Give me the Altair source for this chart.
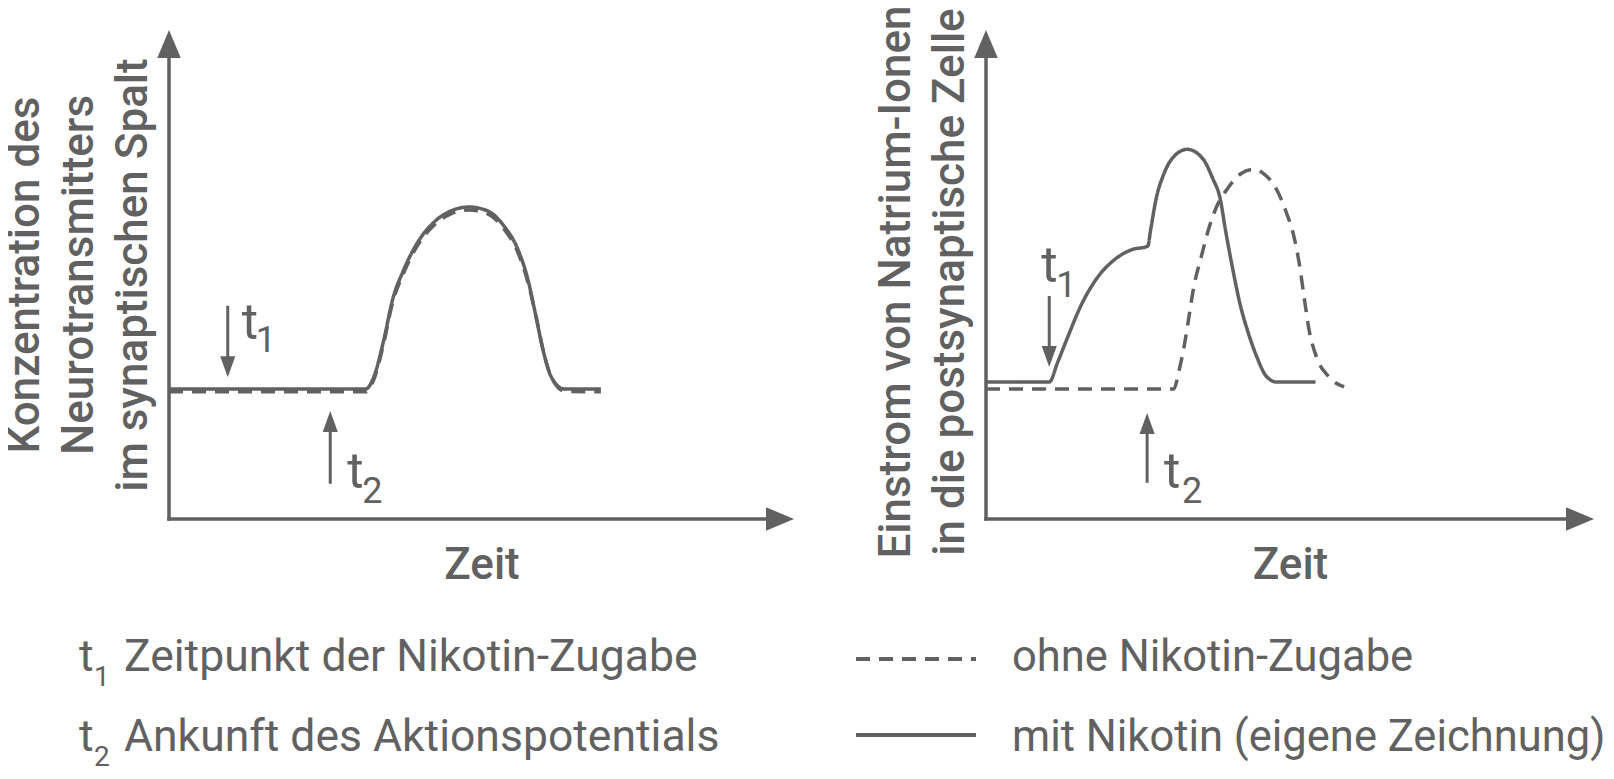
import altair as alt
import pandas as pd

GRAY = "#616161"
FONT = "Roboto"

SERIES = ["ohne Nikotin-Zugabe", "mit Nikotin (eigene Zeichnung)"]

# ---------------- left panel: Konzentration des Neurotransmitters ----------------
l_mit_t = [0, 31.5, 32.8, 34.4, 35.8, 37.4, 39.8, 42.4, 45.1, 48.0, 51.0, 53.6, 55.8, 57.4, 58.7, 59.8, 61.1, 63.2, 69.1]
l_mit_v = [26.6, 26.6, 29.2, 36.8, 45.0, 50.5, 56.6, 60.7, 63.0, 63.8, 63.0, 59.9, 55.2, 49.1, 41.5, 34.8, 29.2, 26.6, 26.6]
l_ohne_t = [0, 31.5, 32.8, 34.4, 35.8, 37.4, 39.8, 42.4, 45.1, 48.0, 51.0, 53.6, 55.8, 57.4, 58.8, 59.9, 61.3, 63.4, 69.1]
l_ohne_v = [26.0, 26.0, 28.6, 36.2, 44.4, 49.9, 56.0, 60.1, 62.4, 63.2, 62.4, 59.3, 54.6, 48.5, 41.0, 34.3, 28.7, 26.1, 26.0]

# ---------------- right panel: Einstrom von Natrium-Ionen ----------------
r_mit_t = [0, 10.4, 11.8, 13.5, 15.6, 18.4, 21.1, 23.8, 26.6, 27.1, 28.0, 29.2, 30.6, 33.1, 35.7, 37.3, 38.5,
           39.4, 40.6, 41.7, 43.1, 44.5, 46.1, 47.8, 54.2]
r_mit_v = [28.0, 28.0, 32.1, 37.4, 43.6, 49.5, 53.0, 55.0, 55.8, 59.3, 65.6, 70.4, 73.7, 75.6, 73.6, 69.6, 65.6,
           59.0, 51.0, 44.4, 38.2, 33.3, 29.2, 28.0, 28.0]
r_ohne_t = [0, 30.9, 31.7, 32.6, 33.4, 34.2, 35.4, 36.5, 37.8, 39.8, 41.9, 43.9, 45.7, 47.7, 49.3, 50.7, 51.5,
            52.3, 53.1, 54.3, 56.3, 58.9]
r_ohne_v = [26.6, 26.6, 30.1, 35.4, 41.5, 47.6, 53.6, 58.8, 63.5, 67.7, 70.6, 71.5, 70.6, 67.6, 63.0, 57.5, 52.4,
            45.6, 38.9, 33.3, 29.2, 27.0]

# ---------------- markers t1 / t2 (time, arrow tail value, arrow tip value) ----------------
marker_names = ["1", "2"]
l_marker_t = [9.4, 25.8]
l_marker_tail = [43.6, 7.2]
l_marker_tip = [29.0, 22.1]
r_marker_t = [10.4, 26.5]
r_marker_tail = [45.6, 7.4]
r_marker_tip = [31.1, 21.7]

legend_marker_text = ["Zeitpunkt der Nikotin-Zugabe", "Ankunft des Aktionspotentials"]

left_title = ["Konzentration des", "Neurotransmitters", "im synaptischen Spalt"]
right_title = ["Einstrom von Natrium-Ionen", "in die postsynaptische Zelle"]
x_title = "Zeit"

# ---------------- shared style ----------------
XS = alt.Scale(domain=[0, 100], nice=False, zero=False)
YS = alt.Scale(domain=[0, 100], nice=False, zero=False)
DASH = alt.Scale(domain=SERIES, range=[[14, 9], [1, 0]])
HEIGHT = 489

UP_BIG = "M0,0L0.42,1L-0.42,1Z"
RIGHT_BIG = "M0,0L-1,0.42L-1,-0.42Z"
UP_SMALL = "M0,0L0.36,1L-0.36,1Z"
DOWN_SMALL = "M0,0L0.36,-1L-0.36,-1Z"


def x_enc(field, axis):
    return alt.X(f"{field}:Q", scale=XS, axis=axis)


def y_enc(field, axis):
    return alt.Y(f"{field}:Q", scale=YS, axis=axis)


def panel(mit_t, mit_v, ohne_t, ohne_v, m_t, m_tail, m_tip, title, width, label_offsets, title_y):
    ax_x = alt.Axis(title=x_title, domain=False, ticks=False, labels=False, grid=False,
                    titleFont=FONT, titleFontSize=44, titleFontWeight=500, titleColor=GRAY,
                    titlePadding=24)
    ax_y = alt.Axis(title=title, domain=False, ticks=False, labels=False, grid=False,
                    titleFont=FONT, titleFontSize=44, titleFontWeight=500, titleColor=GRAY,
                    titlePadding=14, titleLineHeight=54, titleY=title_y)
    X = lambda f="t": x_enc(f, ax_x)
    Y = lambda f="v": y_enc(f, ax_y)

    curves = pd.DataFrame({
        "t": ohne_t + mit_t,
        "v": ohne_v + mit_v,
        "Serie": [SERIES[0]] * len(ohne_t) + [SERIES[1]] * len(mit_t),
    })
    axes_df = pd.DataFrame({"t": [0, 0], "t2": [0, 97], "v": [0, 0], "v2": [97, 0]})
    up_df = pd.DataFrame({"t": [0], "v": [100]})
    right_df = pd.DataFrame({"t": [100], "v": [0]})

    layers = []
    layers.append(alt.Chart(axes_df).mark_rule(color=GRAY, strokeWidth=3.5, strokeCap="square").encode(
        x=X(), x2="t2:Q", y=Y(), y2="v2:Q"))
    layers.append(alt.Chart(up_df).mark_point(shape=UP_BIG, size=3136, filled=True, color=GRAY, opacity=1,
                                              strokeWidth=0).encode(x=X(), y=Y()))
    layers.append(alt.Chart(right_df).mark_point(shape=RIGHT_BIG, size=3136, filled=True, color=GRAY, opacity=1,
                                                 strokeWidth=0).encode(x=X(), y=Y()))
    layers.append(alt.Chart(curves).mark_line(interpolate="monotone", color=GRAY, strokeWidth=3.5).encode(
        x=X(), y=Y(), detail="Serie:N",
        strokeDash=alt.StrokeDash("Serie:N", scale=DASH, legend=None)))

    for i in range(2):
        down = m_tip[i] < m_tail[i]
        end = m_tip[i] + (3 if down else -3)
        adf = pd.DataFrame({"t": [m_t[i]], "v": [m_tail[i]], "v2": [end], "tip": [m_tip[i]],
                            "name": [marker_names[i]]})
        layers.append(alt.Chart(adf).mark_rule(color=GRAY, strokeWidth=3).encode(x=X(), y=Y(), y2="v2:Q"))
        layers.append(alt.Chart(adf).mark_point(shape=DOWN_SMALL if down else UP_SMALL, size=1764, filled=True,
                                                color=GRAY, opacity=1, strokeWidth=0).encode(x=X(), y=Y("tip")))
        (tdx, tdy, sdx, sdy) = label_offsets[i]
        layers.append(alt.Chart(adf).mark_text(font=FONT, fontSize=50, color=GRAY, align="left",
                                               baseline="alphabetic", dx=tdx, dy=tdy).encode(
            x=X(), y=Y(), text=alt.value("t")))
        layers.append(alt.Chart(adf).mark_text(font=FONT, fontSize=36, color=GRAY, align="left",
                                               baseline="alphabetic", dx=sdx, dy=sdy).encode(
            x=X(), y=Y(), text="name:N"))
    return layers, width


left_layers, lw = panel(l_mit_t, l_mit_v, l_ohne_t, l_ohne_v, l_marker_t, l_marker_tail, l_marker_tip,
                        left_title, 625, [(14, 33, 28, 46), (17, 4, 32, 19)], HEIGHT / 2)
right_layers, rw = panel(r_mit_t, r_mit_v, r_ohne_t, r_ohne_v, r_marker_t, r_marker_tail, r_marker_tip,
                         right_title, 608, [(-8, -14, 7, 1), (17, 5, 35, 20)], HEIGHT / 2 + 7)

# legend: markers t1 / t2 (under left panel)
for i in range(2):
    row = pd.DataFrame({"sub": [marker_names[i]], "txt": [legend_marker_text[i]]})
    base_y = 641 + 80 * i
    left_layers.append(alt.Chart(row).mark_text(font=FONT, fontSize=44.5, color=GRAY, align="left",
                                                baseline="alphabetic").encode(
        x=alt.value(-90), y=alt.value(base_y), text=alt.value("t")))
    left_layers.append(alt.Chart(row).mark_text(font=FONT, fontSize=28, color=GRAY, align="left",
                                                baseline="alphabetic").encode(
        x=alt.value(-75), y=alt.value(base_y + 15), text="sub:N"))
    left_layers.append(alt.Chart(row).mark_text(font=FONT, fontSize=44.5, color=GRAY, align="left",
                                                baseline="alphabetic").encode(
        x=alt.value(-45), y=alt.value(base_y), text="txt:N"))

# legend: line styles (under right panel)
for i in range(2):
    row = pd.DataFrame({"Serie": [SERIES[i]]})
    line_y = 629 + 76 * i
    right_layers.append(alt.Chart(row).mark_rule(color=GRAY, strokeWidth=4).encode(
        x=alt.value(-130), x2=alt.value(-10), y=alt.value(line_y),
        strokeDash=alt.StrokeDash("Serie:N", scale=DASH, legend=None)))
    right_layers.append(alt.Chart(row).mark_text(font=FONT, fontSize=43.5, color=GRAY, align="left",
                                                 baseline="alphabetic").encode(
        x=alt.value(26), y=alt.value(641 + 80 * i), text="Serie:N"))

left = alt.layer(*left_layers).properties(width=lw, height=HEIGHT)
right = alt.layer(*right_layers).properties(width=rw, height=HEIGHT)

chart = alt.hconcat(left, right, spacing=192, bounds="flush").properties(
    padding={"left": -5, "top": -4, "right": 0, "bottom": 0}, background="white"
).configure_view(stroke=None)

chart.save("out.html", embed_options={"renderer": "svg", "actions": False})
